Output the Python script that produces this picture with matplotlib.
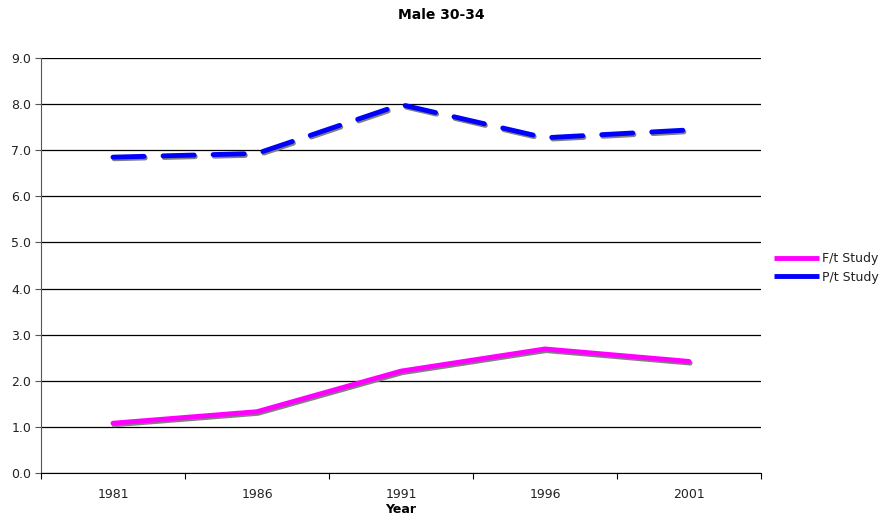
import matplotlib

matplotlib.use("Agg")
import matplotlib.pyplot as plt
import matplotlib.patheffects as pe
from matplotlib.ticker import MultipleLocator, FixedLocator

years = ["1981", "1986", "1991", "1996", "2001"]
ft_study = [1.08, 1.33, 2.21, 2.69, 2.42]
pt_study = [6.85, 6.93, 7.99, 7.27, 7.44]

plt.rcParams["font.family"] = ["DejaVu Sans"]

fig = plt.figure(figsize=(8.82, 5.26), dpi=100)
ax = fig.add_axes([41 / 882, 1 - 473 / 526, 720 / 882, 415 / 526])

x = list(range(len(years)))
shadow = [pe.SimpleLineShadow(offset=(0.8, -1.2), shadow_color="#808080", alpha=1.0), pe.Normal()]

ax.plot(x, ft_study, color="#ff00ff", linewidth=3.5, solid_capstyle="round",
        path_effects=shadow, zorder=3)
ax.plot(x, pt_study, color="#0000ff", linewidth=3.5, linestyle=(0, (6.4, 3.9)),
        dash_capstyle="round", path_effects=shadow, zorder=3)

# legend handles drawn plain, as in the original (no shadow)
h_ft, = ax.plot([], [], color="#ff00ff", linewidth=3.5, solid_capstyle="butt", label="F/t Study")
h_pt, = ax.plot([], [], color="#0000ff", linewidth=3.5, solid_capstyle="butt", label="P/t Study")

ax.set_xlim(-0.5, len(years) - 0.5)
ax.set_ylim(0, 9)
ax.yaxis.set_major_locator(MultipleLocator(1))
ax.yaxis.set_major_formatter(plt.FuncFormatter(lambda v, p: f"{v:.1f}"))
ax.xaxis.set_major_locator(FixedLocator([i - 0.5 for i in range(len(years) + 1)]))
ax.xaxis.set_major_formatter(plt.NullFormatter())
ax.xaxis.set_minor_locator(FixedLocator(x))
ax.xaxis.set_minor_formatter(plt.FixedFormatter(years))
ax.tick_params(axis="x", which="major", length=4, direction="out", color="black")
ax.tick_params(axis="x", which="minor", length=0, pad=11, labelsize=9, labelcolor="#222222")
ax.tick_params(axis="y", length=4, direction="out", labelsize=9, color="#555555",
               labelcolor="#222222", pad=3)

ax.grid(True, axis="y", color="black", linewidth=0.9)
ax.set_axisbelow(True)
for side in ["top", "right"]:
    ax.spines[side].set_visible(False)
ax.spines["left"].set_color("#555555")
ax.spines["bottom"].set_color("black")

ax.set_xlabel("Year", fontsize=9, fontweight="bold", labelpad=1)
fig.text(0.5, 1 - 15 / 526, "Male 30-34", ha="center", va="center",
         fontsize=10, fontweight="bold")

ax.legend(handles=[h_ft, h_pt], loc="center left", bbox_to_anchor=(1.0, 0.494),
          frameon=False, fontsize=9, handlelength=3.6, handletextpad=0.25,
          labelspacing=0.45, borderpad=0.0, borderaxespad=1.0, labelcolor="#222222")

fig.savefig("out.png", dpi=100)
